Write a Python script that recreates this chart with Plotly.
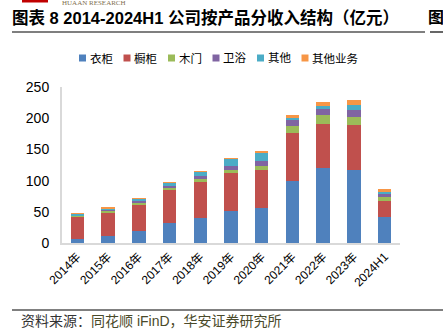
import plotly.graph_objects as go

categories = ["2014年", "2015年", "2016年", "2017年", "2018年", "2019年",
              "2020年", "2021年", "2022年", "2023年", "2024H1"]
series_names = ["衣柜", "橱柜", "木门", "卫浴", "其他", "其他业务"]
yigui = [6.9, 11.7, 18.6, 32.0, 40.0, 50.5, 56.0, 99.7, 119.5, 116.8, 42.0]
chugui = [35.7, 37.9, 42.7, 53.3, 57.0, 61.4, 61.2, 76.8, 72.0, 72.0, 25.6]
mumen = [1.3, 2.1, 3.2, 3.7, 5.4, 5.8, 6.9, 11.2, 13.3, 13.3, 5.4]
weiyu = [0.8, 1.6, 2.1, 2.7, 4.2, 6.4, 7.5, 10.7, 10.7, 11.2, 5.8]
qita = [2.7, 2.7, 4.3, 5.3, 8.0, 10.7, 12.3, 2.7, 3.7, 8.6, 3.2]
qita_yewu = [0.3, 0.3, 0.3, 0.3, 0.3, 0.4, 4.2, 4.8, 6.9, 6.9, 3.8]
y_ticks = [0, 50, 100, 150, 200, 250]
colors = ["#4F81BD", "#C0504D", "#9BBB59", "#8064A2", "#4BACC6", "#F79646"]

W, H = 443, 329
L, R, T, B = 62, 43, 87, 86
PW, PH = W - L - R, H - T - B


def px(x):
    return (x - L) / PW


def py(y):
    return (H - B - y) / PH


fig = go.Figure()
for name, vals, c in zip(series_names, [yigui, chugui, mumen, weiyu, qita, qita_yewu], colors):
    fig.add_trace(go.Bar(x=categories, y=vals, name=name, marker=dict(color=c, line=dict(width=0))))

font_main = "Arial, 'Liberation Sans', 'Noto Sans CJK SC', sans-serif"

fig.update_layout(
    width=W, height=H,
    margin=dict(l=L, r=R, t=T, b=B, pad=0),
    barmode="stack", bargap=0.56,
    plot_bgcolor="white", paper_bgcolor="white",
    font=dict(family=font_main, color="#000000", size=12),
    showlegend=False,
    xaxis=dict(type="category", showgrid=False, showline=True, linecolor="#D9D9D9", linewidth=2,
               ticks="", tickangle=-45, tickfont=dict(size=12, color="#000000"), fixedrange=True),
    yaxis=dict(range=[0, 250], tickvals=y_ticks, showgrid=False, showline=True, linecolor="#D9D9D9",
               linewidth=2, ticks="", ticklabelstandoff=8, tickfont=dict(size=14, color="#000000"),
               zeroline=False, fixedrange=True),
)

# header / footer decorations
shapes = [
    dict(type="line", xref="paper", yref="paper", x0=px(12), x1=px(425), y0=py(32), y1=py(32),
         line=dict(color="#000000", width=1.2)),
    dict(type="line", xref="paper", yref="paper", x0=px(430), x1=px(443), y0=py(32), y1=py(32),
         line=dict(color="#000000", width=1.2)),
    dict(type="line", xref="paper", yref="paper", x0=px(12), x1=px(443), y0=py(310), y1=py(310),
         line=dict(color="#000000", width=1)),
    dict(type="rect", xref="paper", yref="paper", x0=px(22), x1=px(48), y0=py(0), y1=py(2.5),
         fillcolor="#C00000", line=dict(width=0)),
]

# legend row (one row, small squares like the reference)
leg_font = 11.5
lx = 79.0
ly = 58.0
for name, c in zip(series_names, colors):
    shapes.append(dict(type="rect", xref="paper", yref="paper", x0=px(lx), x1=px(lx + 7),
                       y0=py(ly + 3.5), y1=py(ly - 3.5), fillcolor=c, line=dict(width=0)))
    fig.add_annotation(text=name, xref="paper", yref="paper", x=px(lx + 8.5), y=py(ly),
                       xanchor="left", yanchor="middle", showarrow=False,
                       font=dict(family=font_main, size=leg_font, color="#000000"))
    lx += 9 + leg_font * len(name) + 12.5

fig.update_layout(shapes=shapes)

fig.add_annotation(text="HUAAN RESEARCH", xref="paper", yref="paper", x=px(60), y=py(3),
                   xanchor="left", yanchor="middle", showarrow=False,
                   font=dict(family="'Liberation Serif', serif", size=7, color="#7F6F4F"))
fig.add_annotation(text="<b>图表 8 2014-2024H1 公司按产品分收入结构（亿元）</b>", xref="paper", yref="paper",
                   x=px(10), y=py(17), xanchor="left", yanchor="middle", showarrow=False,
                   font=dict(family=font_main, size=16.5, color="#000000"))
fig.add_annotation(text="<b>图</b>", xref="paper", yref="paper",
                   x=px(426), y=py(17), xanchor="left", yanchor="middle", showarrow=False,
                   font=dict(family=font_main, size=16, color="#000000"))
fig.add_annotation(text="资料来源：<span style='color:#4A4A2A'>同花顺 iFinD，华安证券研究所</span>",
                   xref="paper", yref="paper",
                   x=px(19), y=py(321), xanchor="left", yanchor="middle", showarrow=False,
                   font=dict(family=font_main, size=14, color="#333333"))

fig.write_html("out.html")
